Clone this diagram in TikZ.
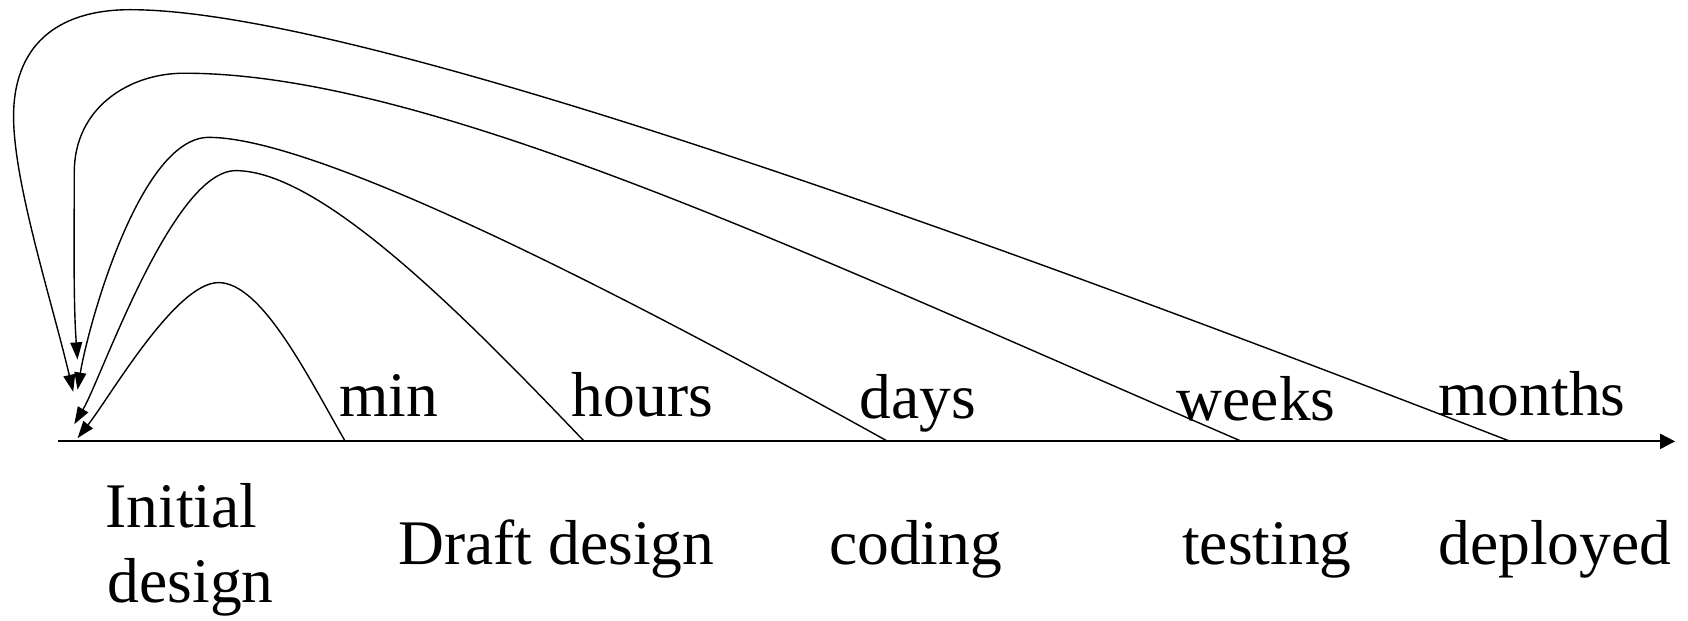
\documentclass[tikz,border=0pt]{standalone}
\usepackage{fontspec}
\setmainfont{Liberation Serif}
\usetikzlibrary{arrows.meta}
\begin{document}
\begin{tikzpicture}[x=1pt,y=-1pt,
  loopback/.style={line width=1.3pt, line join=round,
    -{Triangle[length=16pt,width=11pt]}},
  timeaxis/.style={line width=2pt, -{Triangle[length=14pt,width=14pt]}},
  lbl/.style={anchor=base west, inner sep=0pt, font=\fontsize{59}{70}\selectfont}]
\useasboundingbox (0,0) rectangle (1568,576);

% time axis
\coordinate (axL) at (54,410);
\coordinate (axR) at (1556,410);
\draw[timeaxis] (axL) -- (axR);

% points where each feedback loop leaves the axis
\coordinate (tmin)    at (320.7,410);
\coordinate (thours)  at (542.8,410);
\coordinate (tdays)   at (824.7,410);
\coordinate (tweeks)  at (1153.5,410);
\coordinate (tmonths) at (1403,410);

% highest points of the loops
\coordinate (pmin)    at (203,262.5);
\coordinate (phours)  at (219,158.5);
\coordinate (pdays)   at (193.9,127.6);
\coordinate (pweeks)  at (171,68);
\coordinate (pmonths) at (121,9);

% arrow tips back at the initial design
\coordinate (emin)    at (72,407);
\coordinate (ehours)  at (69,394);
\coordinate (edays)   at (72,362);
\coordinate (eweeks)  at (72,334);
\coordinate (emonths) at (68,364);

% feedback loops
\draw[loopback] (tmin)
  .. controls (285.7,349) and (243,262.5) .. (pmin)
  .. controls (163,262.5) and (102,369) .. (emin);
\draw[loopback] (thours)
  .. controls (432.8,295) and (299,158.5) .. (phours)
  .. controls (160,158.5) and (94,352) .. (ehours);
\draw[loopback] (tdays)
  .. controls (600,285) and (300,127.6) .. (pdays)
  .. controls (130,127.6) and (82,302) .. (edays);
\draw[loopback] (tweeks)
  .. controls (753.5,238) and (401,68) .. (pweeks)
  .. controls (120,68) and (69,100) .. (69,160)
  .. controls (69,220) and (68,280) .. (eweeks);
\draw[loopback] (tmonths)
  .. controls (900,215) and (330,9) .. (pmonths)
  .. controls (50,9) and (12.6,45) .. (12.6,108)
  .. controls (12.6,170) and (48,279) .. (emonths);

% durations above the axis
\node[lbl] (lmin)    at (315,387)   {min};
\node[lbl] (lhours)  at (531,387)   {hours};
\node[lbl] (ldays)   at (798,389)   {days};
\node[lbl] (lweeks)  at (1093,391)  {weeks};
\node[lbl] (lmonths) at (1336,386)  {months};

% stages below the axis
\node[lbl] (sinit)   at (98,490)    {Initial};
\node[lbl] (sinit2)  at (100,560)   {design};
\node[lbl] (sdraft)  at (370,524)   {Draft design};
\node[lbl] (scode)   at (770,524)   {coding};
\node[lbl] (stest)   at (1098,524)  {testing};
\node[lbl] (sdeploy) at (1336,524)  {deployed};
\end{tikzpicture}
\end{document}
